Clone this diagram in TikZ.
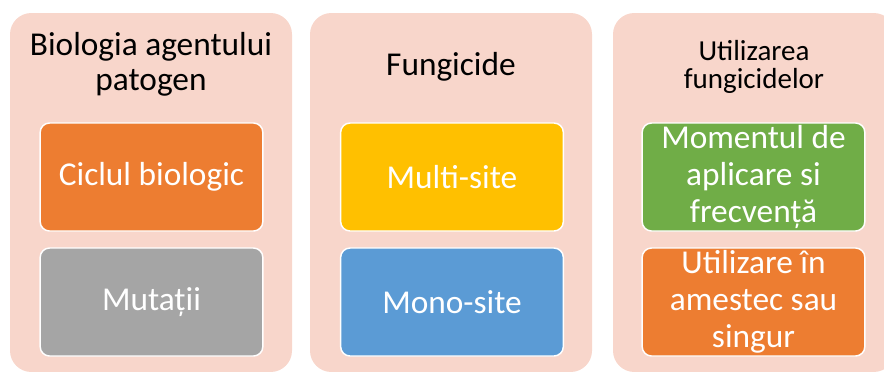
\documentclass[tikz,border=0pt]{standalone}
\usepackage{fontspec}
\setmainfont{Carlito}
\usetikzlibrary{positioning}
\definecolor{panelpink}{HTML}{F8D6CB}
\definecolor{cellorange}{HTML}{ED7D31}
\definecolor{cellgray}{HTML}{A5A5A5}
\definecolor{cellgold}{HTML}{FFC000}
\definecolor{cellblue}{HTML}{5B9BD5}
\definecolor{cellgreen}{HTML}{70AD47}

\begin{document}
\begin{tikzpicture}[x=0.75pt,y=0.75pt,
  panel/.style={fill=panelpink,rounded corners=16pt,inner sep=0pt,
    minimum width=211.5pt,minimum height=269.25pt},
  heading/.style={align=center,font=\fontsize{25}{26.5}\selectfont},
  cell/.style={draw=white,line width=1.1pt,rounded corners=7pt,inner sep=0pt,
    minimum width=167pt,minimum height=81pt,align=center,text=white,
    font=\fontsize{25}{27.75}\selectfont}]
\useasboundingbox (0,0) rectangle (884,-371);
\clip (0,0) rectangle (884,-371);

% Three column panels; the last one runs past the right edge.
\node[panel] (biopanel) at (151,-192.5) {};
\node[panel] (fungpanel) at (451,-192.5) {};
\node[panel] (usepanel) at (754,-192.5) {};

\node[heading] (biohead) at (151,-64.5) {Biologia agentului\\patogen};
\node[heading] (funghead) at (451,-67) {Fungicide};
\node[heading,font=\fontsize{21.75}{21.5}\selectfont] (usehead) at (754,-67)
  {Utilizarea\\fungicidelor};

% Two coloured cells per panel, upper row then lower row.
\node[cell,fill=cellorange] (cycle) at (151.5,-177) {Ciclul biologic};
\node[cell,fill=cellgray] (mutation) at (151.5,-302) {Mutații};
\node[cell,fill=cellgold] (multi) at (452,-177) {Multi-site};
\node[cell,fill=cellblue] (mono) at (452,-302) {Mono-site};
\node[cell,fill=cellgreen] (timing) at (753.5,-177)
  {Momentul de\\aplicare si\\frecvență};
\node[cell,fill=cellorange] (mixing) at (753.5,-302)
  {Utilizare în\\amestec sau\\singur};
\end{tikzpicture}
\end{document}
